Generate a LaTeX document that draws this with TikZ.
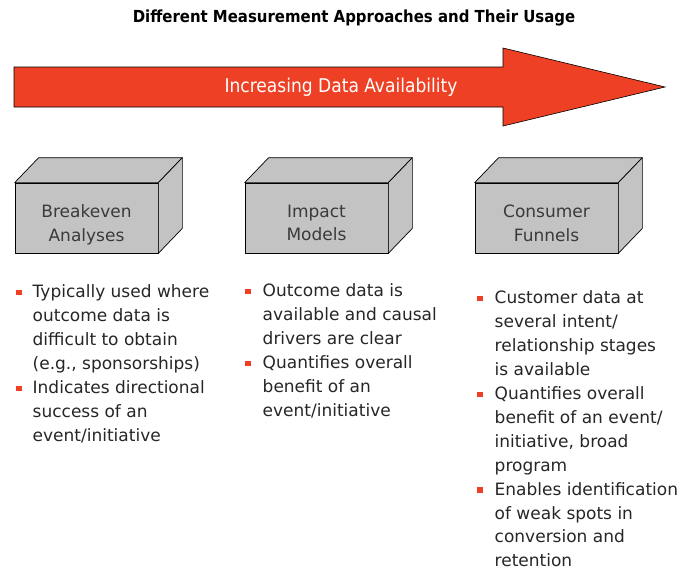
\documentclass[tikz,border=0pt]{standalone}
\usepackage{fontspec}
\setmainfont{DejaVu Sans}
\newfontfamily\condfont{DejaVu Sans Condensed}
\usetikzlibrary{positioning}
\definecolor{chartred}{HTML}{EE4024}
\definecolor{boxgray}{HTML}{C3C3C4}
\definecolor{boxink}{HTML}{3A3A3A}
\definecolor{bodyink}{HTML}{262626}

% red square used as list marker
\newcommand{\sqmark}{\textcolor{chartred}{\rule[2.5pt]{5.5pt}{5.5pt}}}

\begin{document}
\begin{tikzpicture}[
    x=1pt,y=-1pt,
    face/.style={draw=black,line width=.7pt,fill=boxgray,line join=round},
    crate/.style={face,rectangle,minimum width=143pt,minimum height=70pt,inner sep=0pt},
    cratelabel/.style={align=center,text=boxink,font=\fontsize{17}{23.5}\selectfont},
    notes/.style={anchor=north west,inner sep=0pt,text=bodyink,
      font=\fontsize{17}{23.9}\selectfont}
  ]
    \useasboundingbox (0,0) rectangle (692,570);

    \node[font=\condfont\bfseries\fontsize{16.6}{18}\selectfont,text=black]
      (title) at (354,18) {Different Measurement Approaches and Their Usage};

    % big arrow
    \filldraw[fill=chartred,draw=black,line width=.6pt,line join=miter]
      (14,67) -- (503,67) -- (503,48) -- (665,87) -- (503,126) -- (503,107)
      -- (14,107) -- cycle;
    \node[text=white,font=\condfont\fontsize{19}{21}\selectfont]
      (trend) at (341,87) {Increasing Data Availability};

    % the three boxes
    \node[crate] (breakeven) at (86.5,218) {};
    \node[crate] (impact) at (316.5,218) {};
    \node[crate] (funnels) at (546.5,218) {};
    \foreach \b in {breakeven,impact,funnels}{
      \draw[face] (\b.north west) -- ++(24,-25) -- ([shift={(24,-25)}]\b.north east)
        -- (\b.north east) -- cycle;
      \draw[face] (\b.north east) -- ++(24,-25) -- ([shift={(24,-25)}]\b.south east)
        -- (\b.south east) -- cycle;
    }
    \node[cratelabel,text depth=0pt] (breakevenlabel) at ([yshift=-5pt]breakeven.center) {Breakeven\\Analyses};
    \node[cratelabel,text depth=0pt] (impactlabel) at ([yshift=-5pt]impact.center) {Impact\\Models};
    \node[cratelabel,text depth=0pt] (funnelslabel) at ([yshift=-5pt]funnels.center) {Consumer\\Funnels};

    % usage notes
    \node[notes] (breakevennotes) at (16,281) {%
      \begin{tabular}{@{}l@{\hspace{11pt}}l@{}}
        \sqmark & Typically used where\\
                & outcome data is\\
                & difficult to obtain\\
                & (e.g., sponsorships)\\
        \sqmark & Indicates directional\\
                & success of an\\
                & event/initiative
      \end{tabular}};
    \node[notes] (impactnotes) at (245,280) {%
      \begin{tabular}{@{}l@{\hspace{12pt}}l@{}}
        \sqmark & Outcome data is\\
                & available and causal\\
                & drivers are clear\\
        \sqmark & Quantifies overall\\
                & benefit of an\\
                & event/initiative
      \end{tabular}};
    \node[notes] (funnelsnotes) at (477,287) {%
      \begin{tabular}{@{}l@{\hspace{12pt}}l@{}}
        \sqmark & Customer data at\\
                & several intent/\\
                & relationship stages\\
                & is available\\
        \sqmark & Quantifies overall\\
                & benefit of an event/\\
                & initiative, broad\\
                & program\\
        \sqmark & Enables identification\\
                & of weak spots in\\
                & conversion and\\
                & retention
      \end{tabular}};
\end{tikzpicture}
\end{document}
